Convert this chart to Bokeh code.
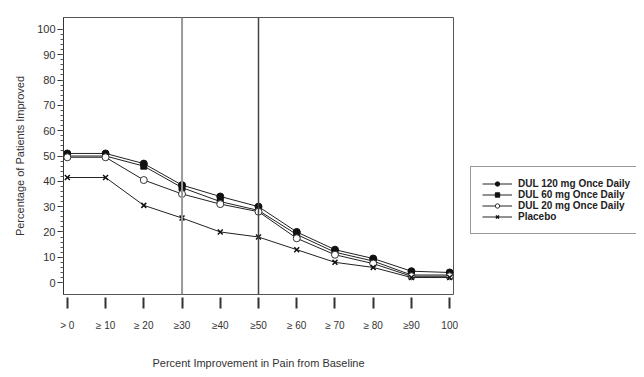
from bokeh.plotting import figure
from bokeh.layouts import row
from bokeh.models import Range1d, FixedTicker, Span, Legend, LegendItem
from bokeh.embed import file_html
from bokeh.resources import INLINE

categories = ["> 0", "\u2265 10", "\u2265 20", "\u226530", "\u226540", "\u226550",
              "\u2265 60", "\u2265 70", "\u2265 80", "\u226590", "100"]
dul120 = [51, 51, 47, 38.5, 34, 30, 20, 13, 9.5, 4.5, 4]
dul60 = [50, 50, 46, 37.5, 32, 28.5, 19, 12, 8.5, 3, 3]
dul20 = [49.5, 49.5, 40.5, 35, 31, 28, 17.5, 11, 7.5, 2.5, 2.5]
placebo = [41.5, 41.5, 30.5, 25.5, 20, 18, 13, 8, 6, 2, 2]
series_names = ["DUL 120 mg Once Daily", "DUL 60 mg Once Daily",
                "DUL 20 mg Once Daily", "Placebo"]
y_ticks = [0, 10, 20, 30, 40, 50, 60, 70, 80, 90, 100]
ref_lines = ["\u226530", "\u226550"]

xs = list(range(len(categories)))
FONT = "Liberation Sans"

p = figure(width=458, height=376, output_backend="svg", toolbar_location=None,
           x_range=Range1d(-0.1, len(categories) - 0.9),
           y_range=Range1d(-4.7, 104.7),
           min_border_left=63, min_border_top=17, min_border_right=5, min_border_bottom=82)
p.grid.visible = False
p.outline_line_color = "#555555"
p.outline_line_width = 1
p.background_fill_color = "white"
p.border_fill_color = "white"

# reference lines
p.add_layout(Span(location=categories.index(ref_lines[0]), dimension="height",
                  line_color="#9a9a9a", line_width=2))
p.add_layout(Span(location=categories.index(ref_lines[1]), dimension="height",
                  line_color="#444444", line_width=1.5))

lc = "#222222"
styles = [
    dict(marker="circle", size=7, fill_color="#111111", line_color="#111111", line_width=1),
    dict(marker="square", size=6, fill_color="#111111", line_color="#111111", line_width=1),
    dict(marker="circle", size=7, fill_color="white", line_color="#333333", line_width=1),
    dict(marker="x", size=7, line_color="#111111", line_width=1.5),
]
for ys, st in zip([dul120, dul60, dul20, placebo], styles):
    p.line(xs, ys, line_color=lc, line_width=1)
    p.scatter(xs, ys, **st)

# x axis
xa = p.xaxis[0]
xa.ticker = FixedTicker(ticks=xs)
xa.major_label_overrides = {i: c for i, c in zip(xs, categories)}
xa.axis_line_color = None
xa.major_tick_in = -3
xa.major_tick_out = 14
xa.major_tick_line_width = 2
xa.major_tick_line_color = "#333333"
xa.minor_tick_line_color = None
xa.major_label_standoff = 11
xa.major_label_text_font = FONT
xa.major_label_text_font_size = "10px"
xa.major_label_text_color = "#333333"
xa.axis_label = "Percent Improvement in Pain from Baseline"
xa.axis_label_text_font = FONT
xa.axis_label_text_font_size = "11px"
xa.axis_label_text_font_style = "normal"
xa.axis_label_text_color = "#333333"
xa.axis_label_standoff = 23

# y axis
ya = p.yaxis[0]
ya.ticker = FixedTicker(ticks=y_ticks,
                        minor_ticks=[v for v in range(0, 101, 2)])
ya.axis_line_color = "#333333"
ya.major_tick_in = 0
ya.major_tick_out = 6
ya.minor_tick_in = 0
ya.minor_tick_out = 3
ya.major_tick_line_color = "#333333"
ya.minor_tick_line_color = "#555555"
ya.major_label_standoff = 2
ya.major_label_text_font = FONT
ya.major_label_text_font_size = "11px"
ya.major_label_text_color = "#333333"
ya.axis_label = "Percentage of Patients Improved"
ya.axis_label_text_font = FONT
ya.axis_label_text_font_size = "11px"
ya.axis_label_text_font_style = "normal"
ya.axis_label_text_color = "#333333"
ya.axis_label_standoff = 8

# legend panel
lg = figure(width=178, height=376, output_backend="svg", toolbar_location=None,
            x_axis_type=None, y_axis_type=None, min_border=0,
            x_range=Range1d(0, 1), y_range=Range1d(0, 1))
lg.grid.visible = False
lg.outline_line_color = None
lg.border_fill_color = "white"
nan = float("nan")
items = []
for name, st in zip(series_names, styles):
    rl = lg.line([nan], [nan], line_color=lc, line_width=1)
    rm = lg.scatter([nan], [nan], **st)
    items.append(LegendItem(label=name, renderers=[rl, rm]))

legend = Legend(items=items, location=(12, 60))
legend.border_line_color = "#333333"
legend.border_line_width = 1
legend.background_fill_color = "white"
legend.label_text_font = FONT
legend.label_text_font_style = "bold"
legend.label_text_font_size = "10px"
legend.label_text_color = "#222222"
legend.glyph_width = 30
legend.glyph_height = 11
legend.label_height = 11
legend.label_standoff = 6
legend.spacing = 0
legend.padding = 11
legend.margin = 0
lg.add_layout(legend, "center")

layout = row(p, lg)
open("out.html", "w").write(file_html(layout, INLINE))
